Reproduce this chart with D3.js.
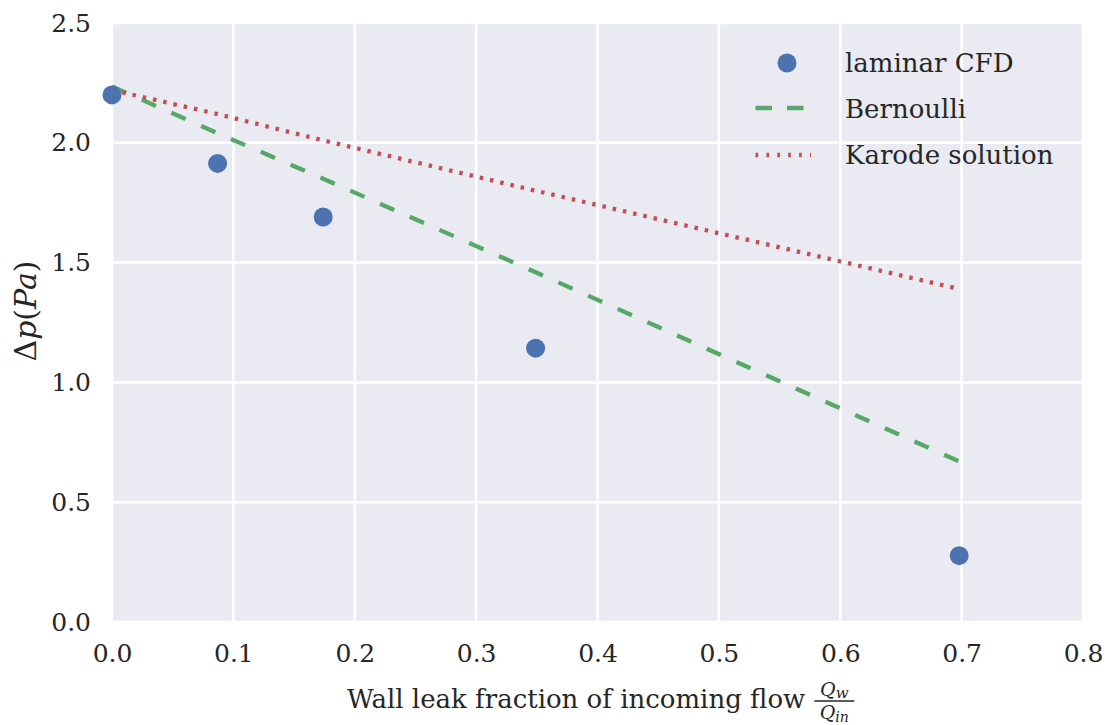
<!DOCTYPE html>
<html>
<head>
<meta charset="utf-8">
<script src="https://cdn.jsdelivr.net/npm/d3@7"></script>
<style>
  body { margin: 0; background: #fff; }
  text { font-family: "DejaVu Serif", serif; fill: #262626; }
</style>
</head>
<body>
<div class="chart"></div>
<script>
// data
const leakFraction = [0, 0.087, 0.174, 0.349, 0.698];
const laminarCFD = [2.20, 1.914, 1.69, 1.143, 0.277];
const bernoulli = [2.235, 2.04, 1.85, 1.46, 0.67];
const karode = [2.22, 2.12, 2.01, 1.80, 1.39];
const xTicks = [0, 0.1, 0.2, 0.3, 0.4, 0.5, 0.6, 0.7, 0.8];
const yTicks = [0, 0.5, 1.0, 1.5, 2.0, 2.5];

// size of the chart
const w = 1109, h = 725;
const margin = { top: 23, right: 26, bottom: 103, left: 112 };

const xScale = d3.scaleLinear().domain([0, 0.8]).range([margin.left, w - margin.right]);
const yScale = d3.scaleLinear().domain([0, 2.5]).range([h - margin.bottom, margin.top]);

const svg = d3.select("div.chart")
    .append("svg")
    .attr("width", w)
    .attr("height", h);

// background + grid
svg.append("rect")
    .attr("x", margin.left)
    .attr("y", margin.top)
    .attr("width", w - margin.left - margin.right)
    .attr("height", h - margin.top - margin.bottom)
    .attr("fill", "#EAEAF2");

svg.append("g")
    .selectAll("line")
    .data(xTicks)
    .enter()
    .append("line")
    .attr("x1", d => xScale(d)).attr("x2", d => xScale(d))
    .attr("y1", margin.top).attr("y2", h - margin.bottom)
    .attr("stroke", "#fff").attr("stroke-width", 2.5);

svg.append("g")
    .selectAll("line")
    .data(yTicks)
    .enter()
    .append("line")
    .attr("y1", d => yScale(d)).attr("y2", d => yScale(d))
    .attr("x1", margin.left).attr("x2", w - margin.right)
    .attr("stroke", "#fff").attr("stroke-width", 2.5);

// axes (labels only)
const xAxis = d3.axisBottom(xScale).tickValues(xTicks).tickFormat(d3.format(".1f")).tickSize(0).tickPadding(22);
svg.append("g")
    .attr("transform", "translate(0," + (h - margin.bottom) + ")")
    .call(xAxis)
    .call(g => g.select(".domain").remove())
    .selectAll("text")
    .style("font-family", "DejaVu Serif")
    .style("font-size", "25px")
    .attr("fill", "#262626");

const yAxis = d3.axisLeft(yScale).tickValues(yTicks).tickFormat(d3.format(".1f")).tickSize(0).tickPadding(21);
svg.append("g")
    .attr("transform", "translate(" + margin.left + ",0)")
    .call(yAxis)
    .call(g => g.select(".domain").remove())
    .selectAll("text")
    .style("font-family", "DejaVu Serif")
    .style("font-size", "25px")
    .attr("fill", "#262626");

// lines
const pairs = arr => leakFraction.map((x, i) => [x, arr[i]]);
const line = d3.line().x(d => xScale(d[0])).y(d => yScale(d[1]));

svg.append("path")
    .attr("d", line(pairs(bernoulli)))
    .attr("fill", "none")
    .attr("stroke", "#55A868")
    .attr("stroke-width", 4.3)
    .attr("stroke-dasharray", "15.5,17");

svg.append("path")
    .attr("d", line(pairs(karode)))
    .attr("fill", "none")
    .attr("stroke", "#C44E52")
    .attr("stroke-width", 4.3)
    .attr("stroke-dasharray", "3.5,7");

// points
svg.append("g")
    .selectAll("circle")
    .data(pairs(laminarCFD))
    .enter()
    .append("circle")
    .attr("cx", d => xScale(d[0]))
    .attr("cy", d => yScale(d[1]))
    .attr("r", 9.5)
    .attr("fill", "#4C72B0");

// legend
const legend = svg.append("g").attr("transform", "translate(755,0)");
legend.append("circle").attr("cx", 32).attr("cy", 63).attr("r", 9.5).attr("fill", "#4C72B0");
legend.append("line").attr("x1", 0.5).attr("x2", 48.5).attr("y1", 108).attr("y2", 108)
    .attr("stroke", "#55A868").attr("stroke-width", 4.3).attr("stroke-dasharray", "16.5,15");
legend.append("line").attr("x1", 0.5).attr("x2", 56).attr("y1", 155).attr("y2", 155)
    .attr("stroke", "#C44E52").attr("stroke-width", 4.5).attr("stroke-dasharray", "2.7,8.2");
const legendNames = ["laminar CFD", "Bernoulli", "Karode solution"];
legend.selectAll("text.lab")
    .data(legendNames)
    .enter()
    .append("text")
    .attr("class", "lab")
    .attr("x", 90)
    .attr("y", (d, i) => 72 + i * 46)
    .style("font-size", "26px")
    .text(d => d);

// y label
const ylab = svg.append("text")
    .attr("transform", "translate(36,311) rotate(-90)")
    .attr("text-anchor", "middle")
    .style("font-size", "30px");
ylab.append("tspan").text("Δ");
ylab.append("tspan").style("font-style", "italic").text("p");
ylab.append("tspan").text("(");
ylab.append("tspan").style("font-style", "italic").text("Pa");
ylab.append("tspan").text(")");

// x label with fraction
const xlab = svg.append("g");
const xlabText = xlab.append("text")
    .attr("x", 347)
    .attr("y", 708)
    .style("font-size", "26px")
    .text("Wall leak fraction of incoming flow");
const tw = xlabText.node().getComputedTextLength();
const fx = 347 + tw + 9;
const num = xlab.append("text").attr("x", fx + 20).attr("y", 696).attr("text-anchor", "middle").style("font-size", "19px");
num.append("tspan").style("font-style", "italic").text("Q");
num.append("tspan").style("font-style", "italic").attr("dy", 2).style("font-size", "15px").text("w");
xlab.append("line").attr("x1", fx).attr("x2", fx + 40).attr("y1", 701).attr("y2", 701)
    .attr("stroke", "#262626").attr("stroke-width", 1.3);
const den = xlab.append("text").attr("x", fx + 20).attr("y", 719).attr("text-anchor", "middle").style("font-size", "19px");
den.append("tspan").style("font-style", "italic").text("Q");
den.append("tspan").style("font-style", "italic").attr("dy", 3).style("font-size", "14px").text("in");
</script>
</body>
</html>
